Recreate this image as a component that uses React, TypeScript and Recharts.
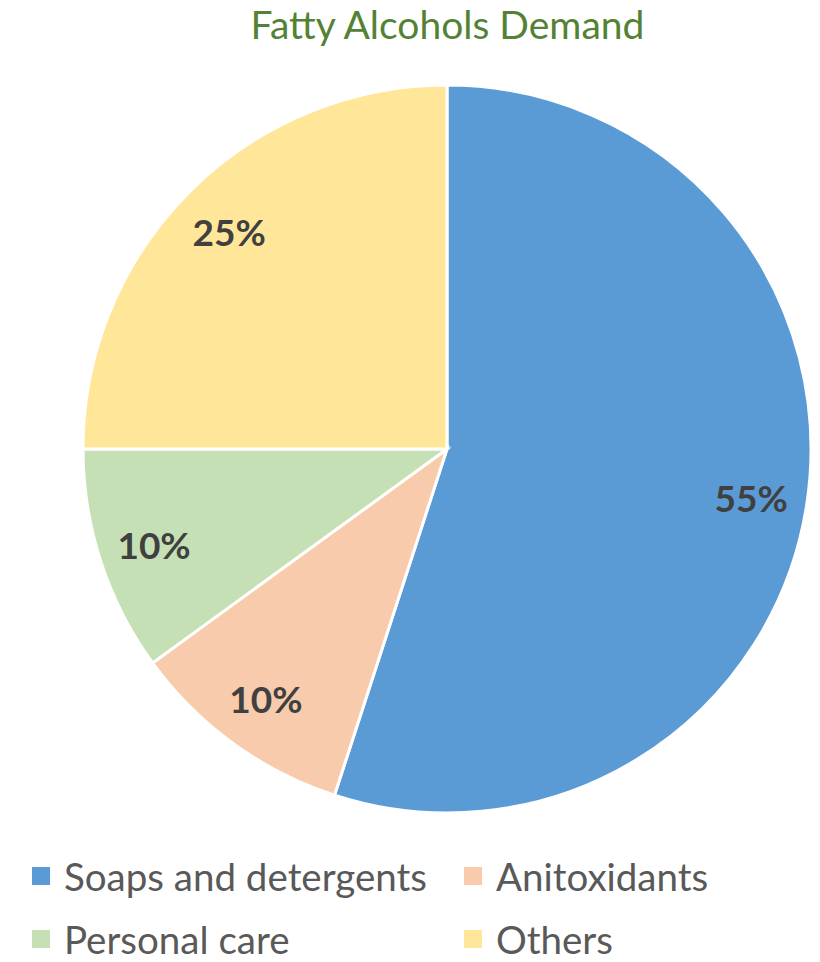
import React from "react";
import { PieChart, Pie, Cell, Legend } from "recharts";

const CATEGORIES = ["Soaps and detergents", "Anitoxidants", "Personal care", "Others"];
const SHARES = [55, 10, 10, 25];
const COLORS = ["#5B9BD5", "#F8CBAD", "#C5E0B4", "#FFE699"];

const data = CATEGORIES.map((name, i) => ({ name, value: SHARES[i], color: COLORS[i] }));

const FONT = "Lato, 'Open Sans', sans-serif";
const RAD = Math.PI / 180;

function renderLabel(props: any) {
  const { cx, cy, midAngle, value } = props;
  const r = 308;
  const x = cx + r * Math.cos(-midAngle * RAD);
  const y = cy + r * Math.sin(-midAngle * RAD);
  return (
    <text
      x={x}
      y={y}
      fill="#404040"
      fontFamily={FONT}
      fontWeight={700}
      fontSize={37}
      textAnchor="middle"
      dominantBaseline="central"
    >
      {`${value}%`}
    </text>
  );
}

function LegendContent() {
  return (
    <div
      style={{
        display: "grid",
        gridTemplateColumns: "432px 300px",
        rowGap: 29,
        fontFamily: FONT,
        fontSize: 38.5,
        color: "#595959",
      }}
    >
      {data.map((d) => (
        <div key={d.name} style={{ display: "flex", alignItems: "center", height: 34, lineHeight: "34px" }}>
          <span
            style={{
              display: "inline-block",
              width: 18,
              height: 18,
              background: d.color,
              marginRight: 14,
            }}
          />
          <span>{d.name}</span>
        </div>
      ))}
    </div>
  );
}

export default function App() {
  return (
    <div style={{ position: "absolute", left: 0, top: 0, width: 820, height: 962, background: "#fff" }}>
      <div
        style={{
          position: "absolute",
          top: 0,
          left: 0,
          width: 895,
          textAlign: "center",
          fontFamily: FONT,
          fontSize: 39,
          lineHeight: "48px",
          color: "#548235",
        }}
      >
        Fatty Alcohols Demand
      </div>
      <PieChart width={820} height={962}>
        <Pie
          data={data}
          dataKey="value"
          nameKey="name"
          cx={442}
          cy={444}
          outerRadius={364}
          startAngle={90}
          endAngle={-270}
          stroke="#ffffff"
          strokeWidth={3}
          label={renderLabel}
          labelLine={false}
          isAnimationActive={false}
        >
          {data.map((d) => (
            <Cell key={d.name} fill={d.color} />
          ))}
        </Pie>
        <Legend
          content={<LegendContent />}
          wrapperStyle={{ position: "absolute", left: 32, top: 859, width: 780 }}
        />
      </PieChart>
    </div>
  );
}
